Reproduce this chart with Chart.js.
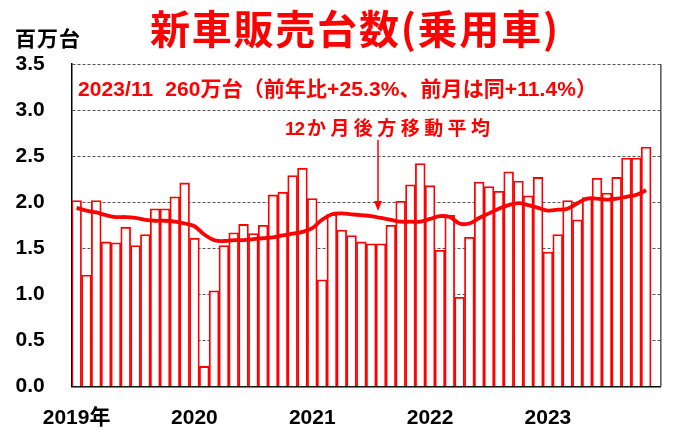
<!DOCTYPE html>
<html>
<head>
<meta charset="utf-8">
<script src="https://cdn.jsdelivr.net/npm/chart.js@4.4.1/dist/chart.umd.min.js"></script>
<style>
  html, body { margin: 0; padding: 0; background: #fff; }
  #wrap { width: 675px; height: 430px; }
</style>
</head>
<body>
<div id="wrap"><canvas id="salesChart" width="675" height="430"></canvas></div>
<script>
const FONT = '"Liberation Sans", "Noto Sans CJK JP", sans-serif';

// monthly categories, Jan 2019 .. Dec 2023 (Dec 2023 not yet reported)
const years = [2019, 2020, 2021, 2022, 2023];
const months = [];
years.forEach(y => { for (let m = 1; m <= 12; m++) months.push(y + '/' + m); });

// x tick labels, shown under each January
const yearTicks = ['2019年', '2020', '2021', '2022', '2023'];

// monthly sales, million units
const sales2019 = [2.02, 1.21, 2.02, 1.57, 1.56, 1.73, 1.53, 1.65, 1.93, 1.93, 2.06, 2.21];
const sales2020 = [1.61, 0.22, 1.04, 1.53, 1.67, 1.76, 1.66, 1.75, 2.08, 2.11, 2.29, 2.37];
const sales2021 = [2.04, 1.16, 1.87, 1.70, 1.64, 1.57, 1.55, 1.55, 1.75, 2.01, 2.19, 2.42];
const sales2022 = [2.18, 1.48, 1.86, 0.97, 1.62, 2.22, 2.17, 2.12, 2.33, 2.23, 2.07, 2.27];
const sales2023 = [1.46, 1.65, 2.02, 1.81, 2.05, 2.26, 2.10, 2.27, 2.48, 2.48, 2.60, null];

// 12-month trailing moving average, million units
const avg2019 = [1.94, 1.91, 1.89, 1.86, 1.84, 1.84, 1.83, 1.81, 1.80, 1.80, 1.79, 1.77];
const avg2020 = [1.74, 1.65, 1.59, 1.58, 1.59, 1.59, 1.60, 1.61, 1.62, 1.64, 1.66, 1.68];
const avg2021 = [1.72, 1.81, 1.87, 1.88, 1.87, 1.86, 1.85, 1.83, 1.81, 1.79, 1.79, 1.79];
const avg2022 = [1.82, 1.85, 1.84, 1.77, 1.77, 1.83, 1.88, 1.93, 1.97, 1.99, 1.97, 1.94];
const avg2023 = [1.91, 1.92, 1.93, 1.99, 2.04, 2.04, 2.03, 2.04, 2.06, 2.08, 2.13, null];

const sales = [...sales2019, ...sales2020, ...sales2021, ...sales2022, ...sales2023];
const movingAvg = [...avg2019, ...avg2020, ...avg2021, ...avg2022, ...avg2023];

const titleText = '新車販売台数(乗用車)';
const unitText = '百万台';
const noteText = '2023/11  260万台（前年比+25.3%、前月は同+11.4%）';
const avgNum = '12';
const avgLabel = 'か月後方移動平均';

// draw text stretched to a given width with letter spacing
function spacedText(ctx, text, x, y, width, font, color) {
  ctx.save();
  ctx.font = font;
  ctx.fillStyle = color;
  ctx.textBaseline = 'middle';
  ctx.textAlign = 'left';
  const w = ctx.measureText(text).width;
  const n = [...text].length;
  const sp = n > 1 ? (width - w) / (n - 1) : 0;
  ctx.letterSpacing = sp.toFixed(2) + 'px';
  ctx.fillText(text, x, y);
  ctx.restore();
}

const decorations = {
  id: 'decorations',
  afterDraw(chart) {
    const ctx = chart.ctx;
    const area = chart.chartArea;

    // right frame
    ctx.save();
    ctx.strokeStyle = '#555';
    ctx.lineWidth = 1.5;
    ctx.beginPath();
    ctx.moveTo(area.right, area.top);
    ctx.lineTo(area.right, area.bottom);
    ctx.stroke();
    ctx.restore();

    spacedText(ctx, titleText, 150, 29, 408, 'bold 40px "Noto Sans CJK JP"', '#ff0000');
    spacedText(ctx, unitText, 15, 38, 65, 'bold 21px "Noto Sans CJK JP"', '#000');
    spacedText(ctx, noteText, 78, 90, 519, 'bold 21px ' + FONT, '#ff0000');
    spacedText(ctx, avgNum, 285, 130, 20, 'bold 19px ' + FONT, '#ff0000');
    spacedText(ctx, avgLabel, 307, 130, 183, 'bold 19px ' + FONT, '#ff0000');

    // arrow to the average line
    ctx.save();
    ctx.strokeStyle = '#ff0000';
    ctx.fillStyle = '#ff0000';
    ctx.lineWidth = 1.5;
    ctx.beginPath();
    ctx.moveTo(378, 140);
    ctx.lineTo(378, 203);
    ctx.stroke();
    ctx.beginPath();
    ctx.moveTo(374, 201);
    ctx.lineTo(382, 201);
    ctx.lineTo(378, 211);
    ctx.closePath();
    ctx.fill();
    ctx.restore();
  }
};

new Chart(document.getElementById('salesChart'), {
  type: 'bar',
  data: {
    labels: months,
    datasets: [
      {
        type: 'line',
        label: '12か月後方移動平均',
        data: movingAvg,
        borderColor: '#ff0000',
        borderWidth: 3.8,
        pointRadius: 0,
        tension: 0.4,
        fill: false,
        order: 0
      },
      {
        label: '新車販売台数',
        data: sales,
        backgroundColor: '#ffffff',
        borderColor: '#ff0000',
        borderWidth: 1.8,
        barPercentage: 1,
        categoryPercentage: 1,
        order: 1
      }
    ]
  },
  options: {
    responsive: false,
    animation: false,
    devicePixelRatio: 1,
    layout: { padding: { left: 0, right: 9, top: 64, bottom: 0 } },
    plugins: {
      legend: { display: false },
      tooltip: { enabled: false },
      title: { display: false }
    },
    scales: {
      x: {
        grid: { display: false, drawTicks: false },
        border: { display: true, color: '#000', width: 1.5 },
        ticks: {
          autoSkip: false,
          maxRotation: 0,
          padding: 19,
          color: '#000',
          font: { family: FONT, size: 21, weight: 'bold' },
          callback: (v, i) => (i % 12 === 0 ? yearTicks[i / 12] : '')
        },
        afterFit: s => { s.height = 43.3; }
      },
      y: {
        min: 0,
        max: 3.5,
        grid: { color: '#555', lineWidth: 1, drawTicks: false },
        border: { display: true, color: '#000', width: 1.5, dash: [3, 2] },
        ticks: {
          stepSize: 0.5,
          padding: 27,
          color: '#000',
          font: { family: FONT, size: 21, weight: 'bold' },
          callback: v => v.toFixed(1)
        },
        afterFit: s => { s.width = 71.7; }
      }
    }
  },
  plugins: [decorations]
});
</script>
</body>
</html>
